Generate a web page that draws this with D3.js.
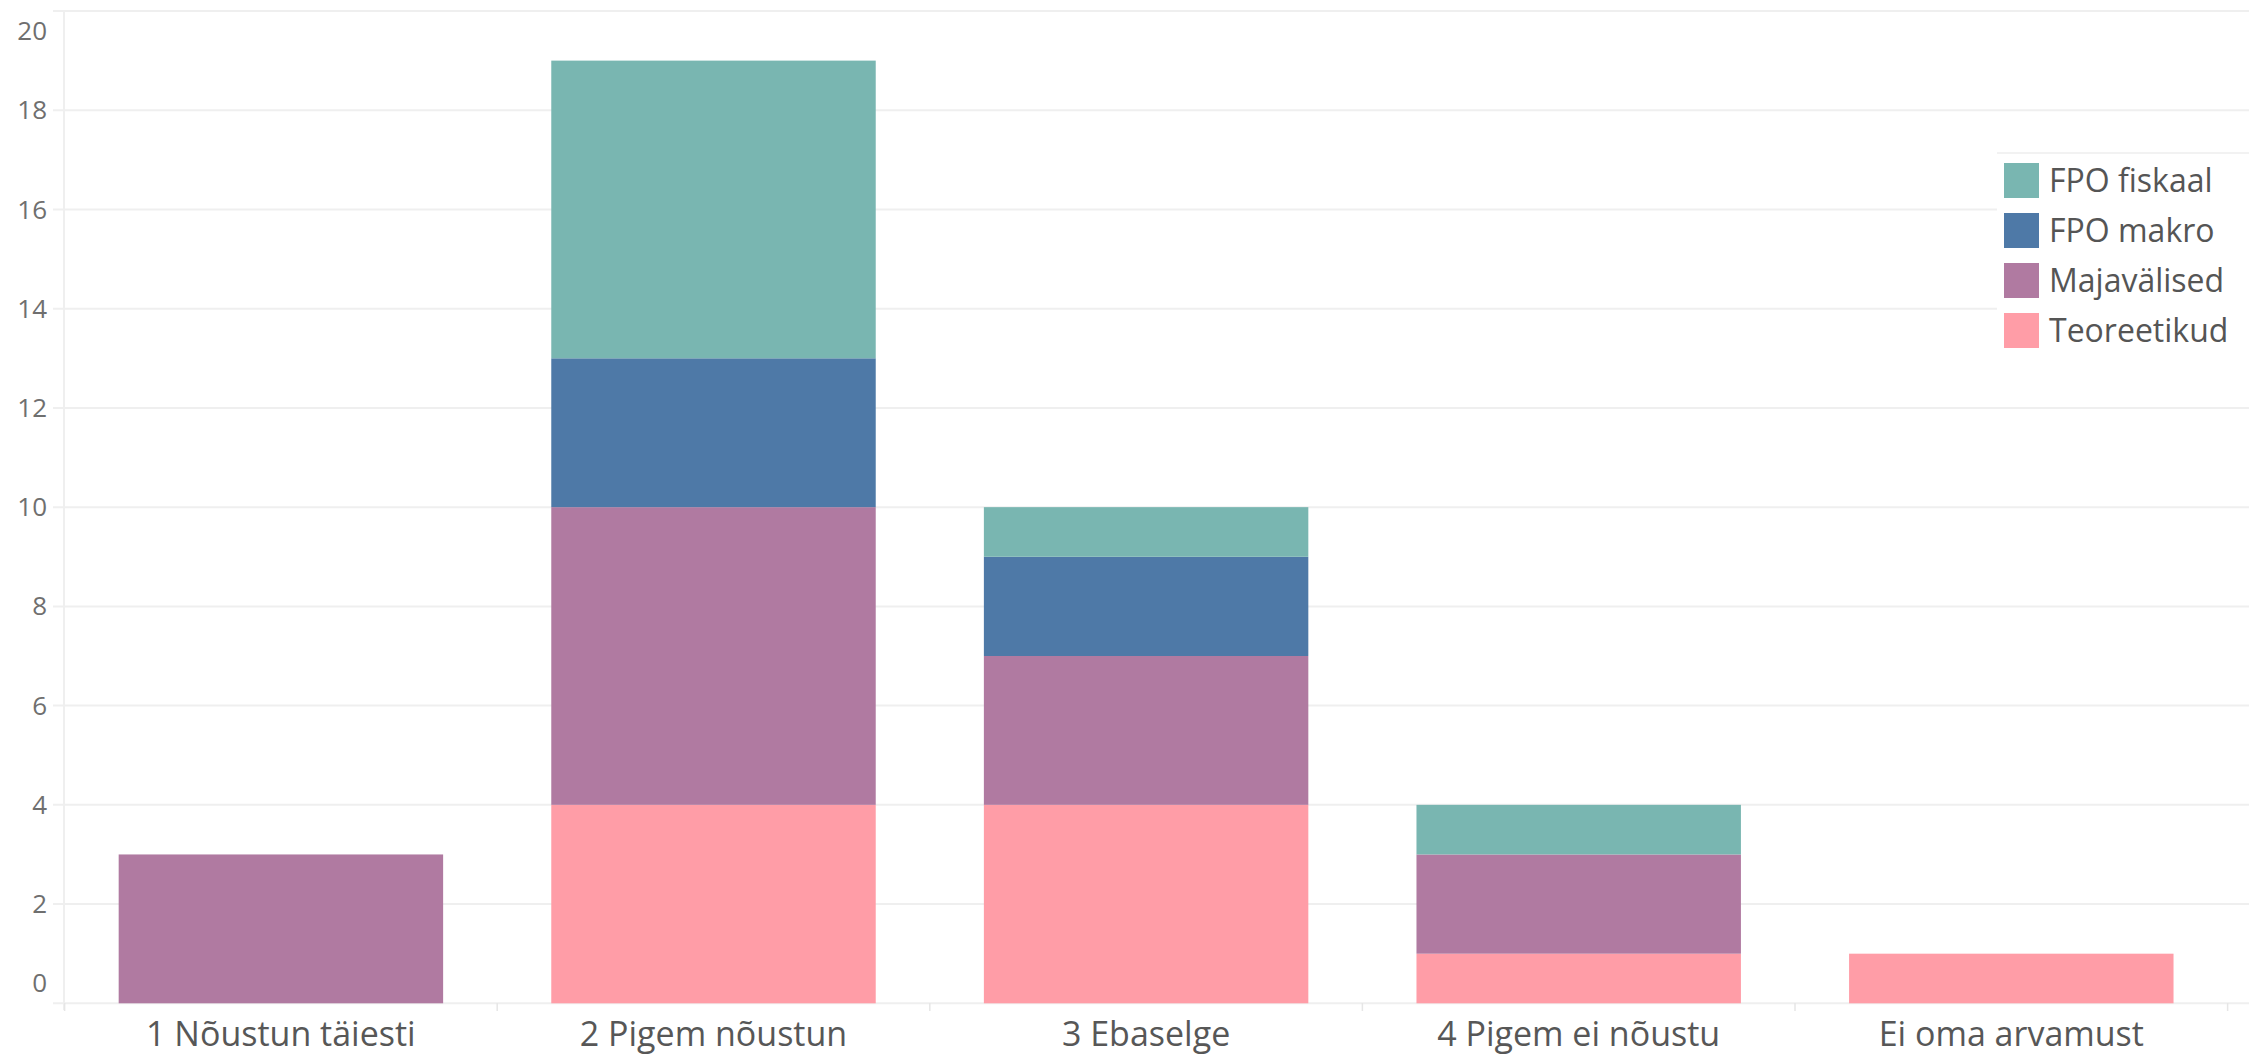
<!DOCTYPE html>
<html>
<head>
<meta charset="utf-8">
<script src="https://cdn.jsdelivr.net/npm/d3@7"></script>
<style>
html,body{margin:0;padding:0;background:#fff;}
svg{display:block;}
text{font-family:"Open Sans","Noto Sans",sans-serif;}
</style>
</head>
<body>
<svg id="chart" width="2249" height="1056"></svg>
<script>
const categories = ["1 Nõustun täiesti","2 Pigem nõustun","3 Ebaselge","4 Pigem ei nõustu","Ei oma arvamust"];
const seriesNames = ["Teoreetikud","Majavälised","FPO makro","FPO fiskaal"];
const teoreetikud = [0,4,4,1,1];
const majavalised = [3,6,3,2,0];
const fpoMakro    = [0,3,2,0,0];
const fpoFiskaal  = [0,6,1,1,0];
const yTicks = [0,2,4,6,8,10,12,14,16,18,20];
const legendOrder = ["FPO fiskaal","FPO makro","Majavälised","Teoreetikud"];
const colors = {"FPO fiskaal":"#79b6b1","FPO makro":"#4e79a7","Majavälised":"#b07aa1","Teoreetikud":"#ff9da7"};

const seriesValues = [teoreetikud, majavalised, fpoMakro, fpoFiskaal];
const rows = categories.map((c,i)=>{
  const r = {cat:c};
  seriesNames.forEach((s,j)=>r[s]=seriesValues[j][i]);
  return r;
});

const svg = d3.select("#chart");
const W = 2249, H = 1056;
const x = d3.scaleBand().domain(categories).range([64.6, 2227.6]).paddingInner(0.25).paddingOuter(0.125);
const y = d3.scaleLinear().domain([0,20]).range([1003.3, 11]);

// gridlines
svg.append("g").selectAll("line").data(yTicks).join("line")
  .attr("x1",53).attr("x2",W)
  .attr("y1",d=>y(d)).attr("y2",d=>y(d))
  .attr("stroke","#efefef").attr("stroke-width",2);

// vertical axis line
svg.append("line").attr("x1",64).attr("x2",64).attr("y1",11).attr("y2",1010)
  .attr("stroke","#efefef").attr("stroke-width",2);

// column separators
const step = x.step();
svg.append("g").selectAll("line").data(d3.range(categories.length+1)).join("line")
  .attr("x1",i=>x.range()[0]+i*step).attr("x2",i=>x.range()[0]+i*step)
  .attr("y1",1003).attr("y2",1011)
  .attr("stroke","#e6e6e6").attr("stroke-width",1.5);

// y tick labels
svg.append("g").selectAll("text").data(yTicks).join("text")
  .attr("x",47)
  .attr("y",d=>{ let yy=y(d); if(d===0) yy-=20; if(d===20) yy+=20; return yy; })
  .attr("dy","0.35em")
  .attr("text-anchor","end")
  .attr("font-size",26)
  .attr("fill","#6f6f6f")
  .text(d=>d);

// bars
const stack = d3.stack().keys(seriesNames);
const stacked = stack(rows);
svg.append("g").selectAll("g").data(stacked).join("g")
  .attr("fill",d=>colors[d.key])
  .selectAll("rect").data(d=>d.filter(p=>p[1]-p[0]>0)).join("rect")
  .attr("x",d=>x(d.data.cat))
  .attr("width",x.bandwidth())
  .attr("y",d=>y(d[1]))
  .attr("height",d=>y(d[0])-y(d[1]));

// x labels
svg.append("g").selectAll("text").data(categories).join("text")
  .attr("x",d=>x(d)+x.bandwidth()/2)
  .attr("y",1034)
  .attr("dy","0.35em")
  .attr("text-anchor","middle")
  .attr("font-size",34)
  .attr("fill","#575757")
  .text(d=>d);

// legend
const lg = svg.append("g");
lg.append("rect").attr("x",1997).attr("y",153).attr("width",W-1997).attr("height",212).attr("fill","#fff");
lg.append("line").attr("x1",1997).attr("x2",W).attr("y1",153).attr("y2",153).attr("stroke","#f2f2f2").attr("stroke-width",2);
const li = lg.selectAll("g.item").data(legendOrder).join("g").attr("class","item")
  .attr("transform",(d,i)=>`translate(2004,${163+i*50})`);
li.append("rect").attr("width",35).attr("height",35).attr("fill",d=>colors[d]);
li.append("text").attr("x",45).attr("y",17.5).attr("dy","0.35em")
  .attr("font-size",32).attr("fill","#555").text(d=>d);
</script>
</body>
</html>
